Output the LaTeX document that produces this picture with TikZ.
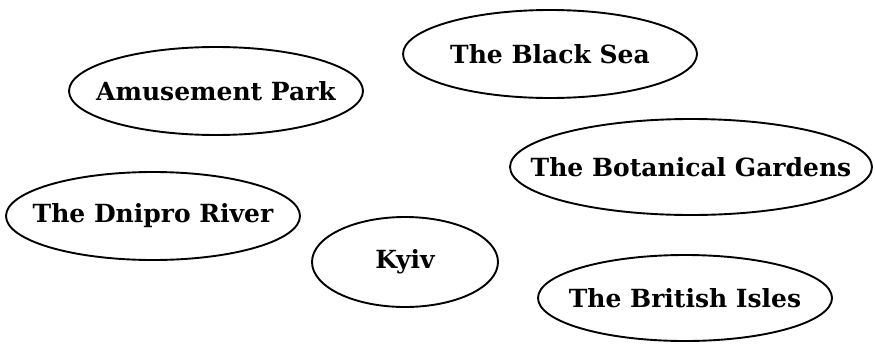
\documentclass[tikz,border=0pt]{standalone}
\usepackage{fontspec}
\setmainfont{DejaVu Serif}
\usetikzlibrary{shapes.geometric}

\tikzset{
    place/.style={inner sep=0pt, font=\fontsize{25}{28}\selectfont\bfseries},
    rim/.style={line width=1.9pt},
}

\begin{document}
\begin{tikzpicture}[x=1pt, y=-1pt]
    % Fix the frame to the reference size
    \useasboundingbox (0,0) rectangle (875,343);

    % Top row
    \node[place] (park) at (216,91) {Amusement Park};
    \node[place] (sea) at (550,54) {The Black Sea};

    % Middle
    \node[place] (gardens) at (691,167) {The Botanical Gardens};
    \node[place] (river) at (153,216) {The Dnipro River};

    % Bottom row
    \node[place] (kyiv) at (405,262) {Kyiv};
    \node[place] (isles) at (685,298) {The British Isles};

    % Rings round the words
    \draw[rim] (park.center) ellipse (147pt and 44pt);
    \draw[rim] (sea.center) ellipse (147pt and 44pt);
    \draw[rim] (gardens.center) ellipse (181pt and 48pt);
    \draw[rim] (river.center) ellipse (147pt and 44pt);
    \draw[rim] (kyiv.center) ellipse (93pt and 45pt);
    \draw[rim] (isles.center) ellipse (147pt and 43pt);
\end{tikzpicture}
\end{document}
